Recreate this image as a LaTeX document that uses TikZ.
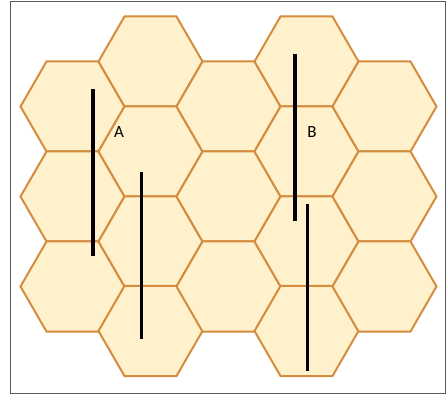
\documentclass[tikz,border=0pt]{standalone}
\usepackage{fontspec}
\setmainfont{Carlito}
\definecolor{hexfill}{RGB}{255,241,204}
\definecolor{hexline}{RGB}{212,140,62}
\definecolor{framegray}{RGB}{90,90,90}
\tikzset{
  hexcell/.style={fill=hexfill, draw=hexline, line width=2pt, line join=miter},
  stick/.style={line width=3.6pt, black},
  lbl/.style={font=\fontsize{17}{19}\selectfont, inner sep=0pt}
}
\begin{document}
\begin{tikzpicture}[x=1pt,y=-1pt]
\useasboundingbox (0,0) rectangle (447,395);
\fill[white] (0,0) rectangle (447,395);
\draw[framegray, line width=1pt] (10.5,1.5) rectangle (445.5,393.5);
% hexagons: flat-topped, r = 52
\foreach \cx/\cy in {72.5/106.5, 72.5/196.5, 72.5/286.5,
                     150.5/61.5, 150.5/151.5, 150.5/241.5, 150.5/331,
                     228.5/106.5, 228.5/196.5, 228.5/286.5,
                     306.5/61.5, 306.5/151.5, 306.5/241.5, 306.5/331,
                     384.5/106.5, 384.5/196.5, 384.5/286.5}{
  \draw[hexcell] (\cx-52,\cy) -- (\cx-26,\cy-45) -- (\cx+26,\cy-45)
     -- (\cx+52,\cy) -- (\cx+26,\cy+45) -- (\cx-26,\cy+45) -- cycle;
}
\draw[stick] (93,89) -- (93,256);
\draw[stick] (141.3,172) -- (141.3,339);
\draw[stick] (294.7,54) -- (294.7,221);
\draw[stick] (307.3,204) -- (307.3,371);
\node[lbl] (A) at (119,132.5) {A};
\node[lbl] (B) at (312,132.5) {B};
\end{tikzpicture}
\end{document}
